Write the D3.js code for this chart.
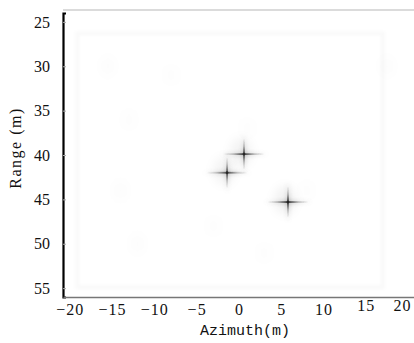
<!DOCTYPE html>
<html>
<head>
<meta charset="utf-8">
<script src="https://cdn.jsdelivr.net/npm/d3@7"></script>
<style>
  body { margin: 0; background: #fff; }
  svg { display: block; }
</style>
</head>
<body>
<div id="chart"></div>
<script>
// point targets: azimuth (m), range (m), peak level
const targetAzimuth = [0.6, -1.4, 5.8];
const targetRange = [39.9, 42.0, 45.3];
const targetPeak = [0.8, 0.75, 0.85];

// faint clutter patches in the image
const clutterAzimuth = [-15.5, -13, -8, -14, -12, -3, 3, 8, 17.5, 1];
const clutterRange = [30, 36, 31, 44, 50, 48, 51, 44, 30, 37];
const clutterLevel = [0.5, 0.35, 0.3, 0.4, 0.45, 0.3, 0.35, 0.3, 0.4, 0.35];

// faint scene boundary
const frameAzimuth = [-19.1, 17.0];
const frameRange = [26.3, 54.9];

const xTicks = [-20, -15, -10, -5, 0, 5, 10, 15, 20];
const yTicks = [25, 30, 35, 40, 45, 50, 55];

const width = 414, height = 343;
const margin = { top: 13, right: 0, bottom: 46, left: 63 };
const serif = '"Liberation Serif", "DejaVu Serif", serif';

const svg = d3.select('#chart').append('svg')
  .attr('width', width)
  .attr('height', height);

svg.append('rect').attr('width', width).attr('height', height).attr('fill', '#fff');

const x = d3.scaleLinear().domain([-20.8, 20.7]).range([margin.left, width - margin.right]);
const y = d3.scaleLinear().domain([24, 56]).range([margin.top, height - margin.bottom]);

const defs = svg.append('defs');
[['blurS', 0.7], ['blurM', 1.8], ['blurL', 5]].forEach(([id, s]) => {
  defs.append('filter').attr('id', id)
    .attr('x', '-50%').attr('y', '-50%').attr('width', '200%').attr('height', '200%')
    .append('feGaussianBlur').attr('stdDeviation', s);
});

function fadeGradient(id, vertical, color) {
  const g = defs.append('linearGradient').attr('id', id)
    .attr('x1', '0%').attr('y1', '0%')
    .attr('x2', vertical ? '0%' : '100%').attr('y2', vertical ? '100%' : '0%');
  [[0, 0], [0.25, 0.3], [0.5, 1], [0.75, 0.3], [1, 0]].forEach(([o, a]) => {
    g.append('stop').attr('offset', o * 100 + '%')
      .attr('stop-color', color).attr('stop-opacity', a);
  });
}
fadeGradient('hGrad', false, '#222');
fadeGradient('vGrad', true, '#222');
fadeGradient('hGradSoft', false, '#666');
fadeGradient('vGradSoft', true, '#666');

// top frame line
svg.append('line')
  .attr('x1', margin.left).attr('x2', width)
  .attr('y1', 10).attr('y2', 10)
  .attr('stroke', '#cfcfcf').attr('stroke-width', 1.5);

const img = svg.append('g');

// scene boundary, very faint
img.append('rect')
  .attr('x', x(frameAzimuth[0])).attr('y', y(frameRange[0]))
  .attr('width', x(frameAzimuth[1]) - x(frameAzimuth[0]))
  .attr('height', y(frameRange[1]) - y(frameRange[0]))
  .attr('fill', 'none').attr('stroke', '#000').attr('stroke-opacity', 0.022)
  .attr('stroke-width', 4).attr('filter', 'url(#blurM)');

// clutter
img.selectAll('ellipse.clutter')
  .data(d3.range(clutterAzimuth.length))
  .join('ellipse')
  .attr('class', 'clutter')
  .attr('cx', i => x(clutterAzimuth[i]))
  .attr('cy', i => y(clutterRange[i]))
  .attr('rx', 7).attr('ry', 11)
  .attr('fill', '#000')
  .attr('fill-opacity', i => 0.025 * clutterLevel[i])
  .attr('filter', 'url(#blurL)');

// targets
const armAz = 2.4, armRg = 1.75;
const tg = img.selectAll('g.target')
  .data(d3.range(targetAzimuth.length))
  .join('g')
  .attr('class', 'target')
  .attr('transform', i => `translate(${x(targetAzimuth[i])},${y(targetRange[i])})`);

// soft halo
tg.append('ellipse')
  .attr('rx', 11).attr('ry', 14)
  .attr('cx', -3).attr('cy', -2)
  .attr('fill', '#000')
  .attr('fill-opacity', i => 0.06 * targetPeak[i])
  .attr('filter', 'url(#blurL)');

// wide faint sidelobes
tg.append('rect')
  .attr('x', -(x(armAz * 1.25) - x(0))).attr('y', -3)
  .attr('width', 2 * (x(armAz * 1.25) - x(0))).attr('height', 6)
  .attr('fill', 'url(#hGradSoft)')
  .attr('opacity', i => 0.22 * targetPeak[i])
  .attr('filter', 'url(#blurM)');
tg.append('rect')
  .attr('y', -(y(armRg * 1.4) - y(0))).attr('x', -3)
  .attr('height', 2 * (y(armRg * 1.4) - y(0))).attr('width', 6)
  .attr('fill', 'url(#vGradSoft)')
  .attr('opacity', i => 0.22 * targetPeak[i])
  .attr('filter', 'url(#blurM)');

// cross arms
tg.append('rect')
  .attr('x', -(x(armAz) - x(0))).attr('y', -0.9)
  .attr('width', 2 * (x(armAz) - x(0))).attr('height', 1.8)
  .attr('fill', 'url(#hGrad)')
  .attr('opacity', i => targetPeak[i])
  .attr('filter', 'url(#blurS)');
tg.append('rect')
  .attr('y', -(y(armRg) - y(0))).attr('x', -0.9)
  .attr('height', 2 * (y(armRg) - y(0))).attr('width', 1.8)
  .attr('fill', 'url(#vGrad)')
  .attr('opacity', i => targetPeak[i])
  .attr('filter', 'url(#blurS)');
tg.append('circle')
  .attr('r', 1.4)
  .attr('fill', '#222')
  .attr('opacity', i => targetPeak[i])
  .attr('filter', 'url(#blurS)');

// Y axis
const yAxis = svg.append('g')
  .attr('transform', `translate(${margin.left},0)`)
  .call(d3.axisLeft(y).tickValues(yTicks).tickSize(-3).tickPadding(13));
yAxis.attr('font-family', null).attr('font-size', null);
yAxis.select('.domain').attr('stroke', '#000').attr('stroke-width', 2.2);
yAxis.selectAll('.tick line').attr('stroke', '#aaa');
yAxis.selectAll('.tick text')
  .style('font-family', serif)
  .style('font-size', '16px').attr('fill', '#111');

// X axis
const xAxis = svg.append('g')
  .attr('transform', `translate(0,${height - margin.bottom})`)
  .call(d3.axisBottom(x).tickValues(xTicks).tickSize(0).tickPadding(7));
xAxis.attr('font-family', null).attr('font-size', null);
xAxis.select('.domain').attr('stroke', '#777').attr('stroke-width', 1.5);
xAxis.selectAll('.tick text')
  .style('font-family', serif)
  .style('font-size', '16px').attr('fill', '#111')
  .attr('letter-spacing', 1)
  .attr('dy', d => d >= 15 ? '0.45em' : '0.71em')
  .attr('dx', d => d === 20 ? -6 : 0);

// axis titles
svg.append('text')
  .attr('x', 245).attr('y', 335)
  .attr('text-anchor', 'middle')
  .style('font-family', '"Liberation Mono", monospace')
  .style('font-size', '15px').attr('fill', '#111')
  .text('Azimuth(m)');

svg.append('text')
  .attr('transform', 'translate(21,148) rotate(-90)')
  .attr('text-anchor', 'middle')
  .style('font-family', serif)
  .style('font-size', '16px').attr('letter-spacing', 1.5).attr('fill', '#111')
  .text('Range (m)');
</script>
</body>
</html>
